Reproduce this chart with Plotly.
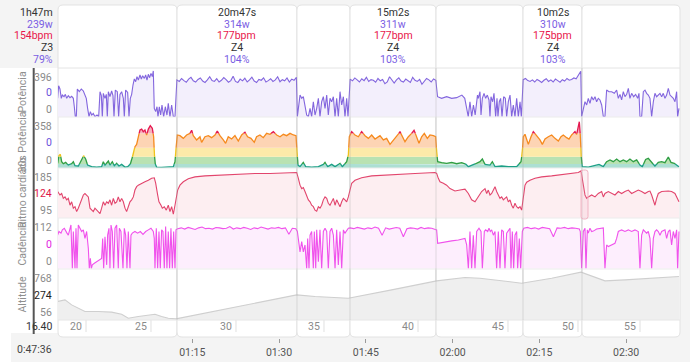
import numpy as np
import plotly.graph_objects as go

# ---------------- data (times in minutes of ride clock) ----------------
summary = ["1h47m", "239w", "154bpm", "Z3", "79%"]
int_labels = ["20m47s", "15m2s", "10m2s"]
int_watts = [314, 311, 310]
int_bpm = [177, 177, 175]
int_zone = ["Z4", "Z4", "Z4"]
int_pct = [104, 103, 103]
int_start = [72.37, 102.27, 132.17]
int_end = [93.10, 117.13, 142.36]

time_ticks = [75, 90, 105, 120, 135, 150]
time_tick_text = ["01:15", "01:30", "01:45", "02:00", "02:15", "02:30"]
dist_km = [20, 25, 30, 35, 40, 45, 50, 55]
dist_time = [56.64, 67.87, 82.56, 97.77, 114.02, 129.57, 141.67, 152.39]
cursor_time = 47.6
cursor_time_text = "0:47:36"
cursor_dist = "16.40"

# panel labels: (title, max, current, min)
panel_titles = ["Potência", "30s Potência", "Ritmo cardíaco", "Cadência", "Altitude"]
panel_max = ["396", "358", "185", "112", "768"]
panel_cur = ["0", "0", "124", "0", "274"]
panel_min = ["0", "0", "95", "0", "56"]

# ---- power (W)
power_t_a = [51.74, 51.91, 52.14, 52.37, 52.55, 52.84, 53.07, 53.30, 53.58, 53.87, 54.16, 54.45, 54.62, 54.79,
             54.97, 55.14, 55.48, 55.83, 56.18, 56.46, 56.69, 56.92, 57.16, 57.39, 57.62, 57.90, 58.19, 58.54,
             58.83, 59.06, 59.29, 59.46, 59.63, 59.92, 60.15, 60.32, 60.50, 60.78, 61.07, 61.30, 61.48, 61.71,
             62.05, 62.28, 62.51, 62.80, 63.09, 63.26, 63.49, 63.84, 64.07, 64.30, 64.53, 64.76, 64.99, 65.22,
             65.45, 65.68, 65.97, 66.20, 66.43, 66.72, 66.95, 67.18, 67.41, 67.64, 67.87, 68.10, 68.27, 68.44,
             68.68, 68.91, 69.08, 69.31, 69.54, 69.77, 70.06, 70.35, 70.63, 70.86, 71.15, 71.44, 71.73, 72.02]
power_a = [160, 268, 240, 160, 188, 174, 194, 160, 183, 166, 177, 160, 88, 3, 3, 240, 217, 240, 223, 188, 160, 74,
           3, 46, 17, 31, 3, 17, 3, 217, 183, 3, 203, 160, 194, 3, 217, 174, 223, 183, 3, 231, 217, 3, 194, 217,
           160, 3, 231, 211, 3, 160, 194, 274, 326, 303, 346, 317, 360, 326, 354, 331, 360, 317, 366, 337, 374,
           346, 395, 74, 46, 88, 3, 88, 17, 103, 3, 88, 17, 117, 3, 103, 3, 3]
power_int1 = [318, 305, 330, 312, 298, 325, 340, 310, 300, 322, 335, 308, 296, 318, 345, 312, 305, 328, 300, 315,
              338, 320, 298, 312, 350, 305, 295, 325, 310, 332, 300, 318, 342, 308, 296, 322, 315, 336, 300, 312,
              328, 305, 318, 345, 302, 320, 310, 335, 300, 325, 315, 340]
power_t_b = [93.17, 93.63, 93.92, 94.20, 94.49, 94.78, 95.07, 95.36, 95.64, 95.93, 96.22, 96.51, 96.80, 97.08,
             97.37, 97.66, 97.95, 98.24, 98.52, 98.81, 99.10, 99.39, 99.68, 99.96, 100.25, 100.54, 100.83, 101.12,
             101.40, 101.69, 101.92]
power_b = [3, 188, 160, 174, 103, 17, 3, 74, 3, 131, 17, 74, 160, 3, 131, 174, 74, 188, 17, 160, 131, 174, 3, 160,
           3, 217, 103, 174, 3, 160, 3]
power_int2 = [325, 310, 335, 318, 300, 328, 312, 340, 305, 320, 315, 298, 330, 310, 322, 285, 300, 345, 312, 290,
              318, 335, 308, 300, 325, 312, 296, 340, 315, 305, 322, 280, 310, 330, 318, 300, 326, 315]
power_t_c = [117.4, 118.1, 118.97, 119.84, 120.7, 121.6, 122.1, 122.4, 122.7, 123.0, 123.3, 123.6, 123.9, 124.3,
             124.45, 124.73, 124.91, 125.14, 125.43, 125.71, 126.0, 126.29, 126.46, 126.63, 126.92, 127.15, 127.44,
             127.67, 127.84, 128.07, 128.3, 128.54, 128.82, 129.11, 129.34, 129.63, 129.92, 130.21, 130.49, 130.78,
             131.07, 131.36, 131.65, 131.88]
power_c = [174, 160, 174, 160, 166, 188, 160, 88, 3, 131, 3, 103, 17, 188, 160, 217, 17, 160, 203, 160, 188, 146,
           3, 174, 131, 203, 3, 160, 3, 131, 160, 3, 174, 160, 3, 131, 188, 3, 103, 3, 160, 3, 131, 3]
power_int3 = [320, 330, 312, 305, 318, 300, 322, 310, 296, 315, 328, 305, 318, 300, 325, 312, 298, 320, 308, 330,
              315, 322, 335, 328, 360, 392]
power_t_d = [142.30, 142.59, 142.88, 143.17, 143.45, 143.74, 144.03, 144.32, 144.61, 144.89, 145.18, 145.47,
             145.76, 146.05, 146.33, 146.62, 147.03, 147.49, 147.95, 148.35, 148.64, 148.93, 149.21, 149.50,
             149.79, 150.08, 150.37, 150.65, 150.94, 151.29, 151.63, 151.98, 152.21, 152.38, 152.67, 152.96,
             153.25, 153.53, 153.82, 154.11, 154.40, 154.69, 154.97, 155.26, 155.55, 155.84, 156.13, 156.41,
             156.70, 156.99, 157.28, 157.57, 157.85, 158.14, 158.43, 158.72, 158.89, 159.12]
power_d = [3, 74, 131, 103, 160, 117, 174, 146, 174, 131, 160, 146, 103, 3, 3, 231, 217, 217, 203, 231, 160, 194,
           146, 217, 174, 194, 246, 160, 203, 174, 194, 160, 203, 3, 3, 217, 231, 203, 188, 160, 3, 131, 203, 174,
           194, 203, 174, 203, 160, 188, 246, 188, 174, 160, 131, 217, 3, 74]

# ---- 30s power, on the zone panel scale
p30_t1 = [51.74, 51.97, 52.2, 52.43, 52.72, 53.12, 53.58, 54.16, 54.45, 54.74, 55.31, 55.89, 56.23, 56.58, 56.92,
          57.62, 58.48, 59.34, 59.63, 59.92, 60.5, 60.78, 61.19, 61.53, 61.94, 62.34, 62.8, 63.38, 63.84, 64.24,
          64.53, 64.82, 65.1, 65.39, 65.68, 65.97, 66.26, 66.54, 66.83, 67.12, 67.41, 67.75, 68.1, 68.33, 68.44,
          68.56, 68.85, 69.71, 70.86, 71.73, 72.02, 72.25, 72.42]
p30_v1 = [35, 92, 102, 47, 32, 42, 22, 32, 47, 17, 15, 60, 92, 67, 22, 10, 7, 10, 47, 22, 52, 22, 47, 17, 35, 15,
          27, 7, 10, 22, 60, 109, 159, 176, 233, 283, 290, 271, 283, 246, 290, 315, 296, 233, 122, 35, 7, 5, 5, 10,
          47, 171, 246]
p30_t2 = [72.88, 73.46, 74.03, 74.61, 74.9, 75.18, 75.76, 76.34, 76.62, 77.2, 77.78, 78.35, 78.93, 79.33, 79.79,
          80.37, 80.77, 81.23, 81.81, 82.38, 82.96, 83.54, 84.11, 84.57, 85.15, 85.72, 86.12, 86.7, 87.28, 87.86,
          88.43]
p30_v2 = [241, 221, 246, 258, 281, 241, 209, 233, 191, 233, 241, 226, 246, 276, 241, 209, 184, 233, 216, 241, 201,
          246, 266, 233, 221, 191, 233, 246, 226, 258, 251]
p30_t3 = [89.02, 89.6, 90.17, 90.75, 91.32, 91.9, 92.48, 92.94, 93.11, 93.28, 93.63, 94.2, 94.61, 95.64, 96.8,
          97.66, 97.95, 98.41, 99.1, 99.68, 100.54, 100.94, 101.69, 101.98, 102.15]
p30_v3 = [271, 246, 233, 251, 241, 258, 246, 241, 122, 22, 10, 42, 10, 7, 10, 27, 42, 10, 27, 10, 35, 10, 47, 97,
          233]
p30_t4 = [102.56, 103.13, 103.71, 104.28, 104.86, 105.44, 106.01, 106.59, 107.45, 108.03, 108.6, 109.18, 109.76,
          110.33, 110.91, 111.31, 111.77, 112.35, 112.92, 113.33, 113.79, 114.19, 114.65, 115.11, 115.63, 116.09,
          116.67, 117.07]
p30_v4 = [271, 246, 233, 271, 241, 221, 246, 216, 241, 209, 221, 176, 209, 233, 271, 233, 196, 233, 258, 281, 233,
          184, 233, 258, 221, 246, 241, 233]
p30_t5 = [117.24, 117.42, 118.11, 118.97, 119.84, 120.7, 121.56, 122.31, 122.72, 123.58, 124.33, 124.73, 125.14,
          125.6, 126.46, 126.87, 127.33, 128.48, 129.63, 131.07, 131.82, 132.05]
p30_v5 = [122, 47, 40, 35, 42, 32, 40, 27, 10, 22, 42, 47, 67, 27, 22, 47, 10, 15, 10, 10, 47, 122]
p30_t6 = [132.22, 132.51, 133.09, 133.55, 133.95, 134.53, 135.1, 135.51, 135.97, 136.54, 137.12, 137.69, 138.27,
          138.73, 139.13, 139.71, 140.11, 140.57, 141.15, 141.44, 141.73, 141.9, 142.07, 142.25]
p30_v6 = [233, 251, 176, 233, 271, 241, 209, 176, 216, 233, 246, 221, 201, 233, 246, 226, 216, 246, 271, 251, 308,
          345, 246, 72]
p30_t7 = [142.42, 143.45, 144.61, 145.3, 146.05, 146.62, 147.2, 147.77, 148.35, 148.93, 149.5, 150.08, 150.65,
          151.23, 151.81, 152.38, 152.79, 153.36, 153.82, 154.28, 154.97, 155.55, 156.13, 156.7, 157.28, 157.74,
          158.31, 158.72, 159.12]
p30_v7 = [10, 7, 17, 27, 10, 47, 60, 47, 67, 47, 60, 47, 67, 47, 60, 22, 10, 64, 72, 47, 15, 42, 47, 40, 82, 42,
          35, 22, 10]
zone_edges = [0, 30, 84, 151, 258, 1000]

# ---- heart rate (bpm)
hr_t_a = [51.74, 52.14, 52.43, 52.72, 53.01, 53.3, 53.58, 53.87, 54.16, 54.45, 54.74, 55.02, 55.31, 55.6, 55.89,
          56.18, 56.46, 56.75, 57.04, 57.33, 57.62, 57.9, 58.19, 58.48, 58.77, 59.06, 59.34, 59.63, 59.92, 60.21,
          60.5, 60.78, 61.07, 61.36, 61.65, 61.94, 62.22, 62.51, 62.8, 63.09, 63.38, 63.66, 63.95, 64.24, 64.53,
          64.82, 65.1, 65.39, 65.68, 66.26, 66.83, 67.41, 67.98, 68.44, 68.68, 69.02, 69.25, 69.6, 69.83, 70.17,
          70.52, 70.86, 71.15, 71.44, 71.73, 72.02]
hr_a = [143, 136, 139, 129, 132, 126, 129, 115, 122, 109, 112, 102, 109, 119, 129, 136, 139, 136, 132, 109, 105,
        102, 109, 105, 102, 98, 109, 122, 115, 122, 119, 126, 115, 129, 119, 122, 132, 122, 129, 122, 109, 102, 112,
        122, 126, 132, 146, 153, 156, 160, 163, 166, 170, 171, 160, 136, 122, 115, 109, 112, 105, 115, 102, 112, 97,
        115]
hr_t_b = [72.19, 72.48, 72.88, 73.46, 74.32, 75.47, 77.2, 80.08, 82.96, 85.84, 88.43, 90.46, 93.05, 93.34, 93.63,
          93.92, 94.2, 94.49, 94.78, 95.07, 95.36, 95.64, 95.93, 96.22, 96.51, 96.8, 97.08, 97.37, 97.66, 97.95,
          98.24, 98.52, 98.81, 99.1, 99.39, 99.68, 99.96, 100.25, 100.54, 100.83, 101.12, 101.4, 101.69, 101.98]
hr_b = [129, 146, 156, 163, 169, 173, 175, 177, 178, 180, 180, 181, 182, 170, 156, 149, 151, 143, 132, 126, 122,
        115, 112, 105, 103, 112, 109, 115, 126, 132, 129, 119, 115, 122, 129, 115, 126, 119, 112, 122, 129, 126, 122,
        132]
hr_t_c = [102.27, 102.56, 103.13, 104.28, 106.01, 108.32, 110.62, 113.5, 116.96, 117.24, 117.53, 117.82, 118.4,
          118.97, 119.55, 120.41, 121.28, 122.14, 122.72, 123.29, 123.87, 124.44, 125.02, 125.6, 125.89, 126.17,
          126.46, 126.75, 127.04, 127.33, 127.61, 127.9, 128.19, 128.48, 128.77, 129.05, 129.34, 129.63, 129.92,
          130.21, 130.49, 130.78, 131.07, 131.36, 131.65, 131.93]
hr_c = [149, 160, 166, 171, 175, 177, 179, 180, 182, 180, 170, 163, 160, 156, 149, 144, 146, 148, 139, 126, 122,
        132, 143, 149, 139, 146, 136, 139, 146, 153, 143, 136, 129, 132, 126, 129, 132, 122, 126, 115, 109, 119, 112,
        109, 112, 105]
hr_t_d = [132.22, 132.51, 132.8, 133.37, 134.24, 135.39, 137.12, 138.85, 140.57, 141.73, 142.19, 142.42, 142.65,
          142.88, 143.17, 143.45, 144.03, 144.61, 145.18, 145.76, 146.05, 146.33, 146.91, 147.49, 148.06, 148.64,
          149.21, 149.79, 150.37, 150.94, 151.52, 152.09, 152.67, 153.25, 153.82, 154.11, 154.4, 154.97, 155.26,
          155.55, 156.13, 156.7, 157.28, 157.85, 158.43, 159.12]
hr_d = [129, 156, 162, 166, 170, 173, 175, 178, 180, 182, 185, 170, 149, 136, 129, 132, 136, 132, 139, 143, 132,
        139, 143, 139, 136, 143, 139, 143, 146, 139, 143, 146, 143, 139, 143, 144, 136, 115, 129, 139, 143, 144, 144,
        143, 139, 122]
hr_marker = [142.2, 143.4]

# ---- cadence (rpm)
cad_t_a = [51.74, 51.97, 52.32, 52.55, 52.89, 53.12, 53.35, 53.58, 53.87, 54.04, 54.28, 54.45, 54.74, 54.91, 55.08,
           55.31, 55.6, 55.89, 56.18, 56.46, 56.75, 57.04, 57.21, 57.39, 57.56, 57.73, 58.08, 58.48, 58.88, 59.34,
           59.52, 59.69, 59.92, 60.21, 60.38, 60.61, 60.78, 60.96, 61.19, 61.42, 61.65, 61.94, 62.22, 62.4, 62.68,
           63.03, 63.26, 63.49, 63.72, 63.95, 64.24, 64.41, 64.64, 65.1, 65.56, 66.03, 66.49, 66.95, 67.41, 67.87,
           68.27, 68.44, 68.56, 68.79, 69.02, 69.25, 69.48, 69.71, 69.94, 70.17, 70.4, 70.63, 70.86, 71.09, 71.32,
           71.56, 71.79, 72.02, 72.19]
cad_a = [82, 91, 87, 95, 99, 91, 87, 82, 100, 107, 0, 91, 0, 99, 0, 107, 99, 91, 95, 74, 91, 50, 0, 25, 0, 9, 13, 17,
         21, 25, 74, 0, 78, 9, 82, 99, 0, 107, 91, 0, 99, 107, 0, 99, 91, 0, 99, 82, 0, 91, 0, 82, 87, 91, 87, 91,
         84, 91, 95, 99, 91, 74, 0, 99, 0, 91, 0, 95, 91, 0, 103, 0, 91, 0, 99, 0, 91, 0, 95]
cad_int1 = [98, 100, 97, 101, 99, 96, 100, 102, 98, 99, 97, 101, 100, 98, 99, 103, 97, 100, 98, 101, 99, 96, 100,
            98, 102, 99, 97, 100, 99, 101, 98, 100, 84, 99, 98]
cad_t_b = [93.17, 93.34, 93.63, 93.92, 94.2, 94.49, 94.78, 94.95, 95.18, 95.36, 95.64, 95.93, 96.1, 96.34, 96.51,
           96.8, 97.08, 97.37, 97.66, 97.95, 98.24, 98.52, 98.81, 99.1, 99.39, 99.68, 99.96, 100.25, 100.54, 100.83,
           101.12, 101.4, 101.69, 101.98]
cad_b = [91, 74, 41, 66, 41, 58, 0, 74, 0, 82, 91, 0, 91, 0, 95, 17, 95, 0, 91, 99, 91, 0, 91, 99, 82, 0, 95, 9, 91,
         0, 95, 87, 92, 99]
cad_int2 = [100, 98, 101, 99, 97, 100, 98, 102, 99, 82, 100, 97, 99, 101, 99, 78, 98, 100, 99, 97, 101, 98, 100, 99,
            96]
cad_t_c = [117.24, 117.42, 118.68, 119.84, 120.99, 122.14, 122.43, 122.72, 123.0, 123.29, 123.58, 123.87, 124.16,
           124.33, 124.56, 124.91, 125.14, 125.48, 125.71, 126.06, 126.29, 126.52, 126.75, 127.04, 127.33, 127.61,
           127.9, 128.19, 128.48, 128.77, 129.05, 129.34, 129.63, 129.92, 130.09, 130.32, 130.55, 130.78, 131.07,
           131.24, 131.53, 131.76, 132.05]
cad_c = [95, 62, 66, 68, 70, 74, 58, 0, 91, 0, 82, 0, 91, 95, 99, 91, 0, 91, 95, 91, 99, 91, 95, 82, 91, 0, 91, 0,
         95, 91, 0, 87, 95, 99, 0, 91, 0, 82, 91, 0, 74, 0, 91]
cad_int3 = [99, 101, 98, 100, 97, 101, 99, 98, 78, 100, 99, 101, 98, 100, 99, 97]
cad_t_d = [142.07, 142.3, 142.59, 142.88, 143.05, 143.28, 143.45, 143.74, 144.03, 144.32, 144.89, 145.47, 146.05,
           146.33, 146.62, 146.91, 147.49, 148.06, 148.35, 148.64, 149.21, 149.79, 150.37, 150.94, 151.52, 152.09,
           152.38, 152.67, 152.96, 153.25, 153.53, 153.82, 154.11, 154.4, 154.69, 154.97, 155.26, 155.55, 155.84,
           156.13, 156.7, 156.99, 157.28, 157.57, 157.85, 158.14, 158.43, 158.72, 158.89, 159.12]
cad_d = [91, 0, 91, 99, 0, 95, 87, 99, 91, 92, 97, 99, 100, 0, 58, 54, 58, 62, 74, 91, 95, 91, 95, 91, 95, 91, 0,
         82, 95, 91, 87, 91, 74, 0, 74, 91, 95, 91, 82, 91, 95, 74, 91, 95, 58, 91, 74, 95, 0, 91]

# ---- altitude (m)
alt_t = [51.74, 53.01, 54.16, 56.46, 58.77, 61.07, 62.8, 63.95, 65.68, 67.41, 68.56, 69.71, 70.86, 72.19, 80.08,
         88.43, 93.05, 96.22, 99.1, 101.98, 109.47, 117.24, 122.14, 124.73, 131.93, 137.12, 142.19, 146.33, 149.79,
         154.4, 159.12]
alt_v = [330, 354, 280, 182, 182, 172, 142, 83, 108, 132, 142, 108, 83, 73, 207, 354, 428, 404, 389, 379, 502, 635,
         685, 675, 601, 675, 764, 635, 650, 675, 699]

# ---------------- layout geometry ----------------
W, H = 690, 362
PL, PR = 58, 680
T_MIN, T_MAX = 51.8, 159.3
PANELS = [(68, 117), (117, 168), (168, 218), (218, 269), (269, 320)]
RANGES = [[0, 420], [0, 380], [88.9, 191.1], [-1.2, 124.2], [56, 811]]
FONT = "Roboto, 'Open Sans', sans-serif"
FS = 10.5
PURPLE = "#7a5de3"
RED = "#e8174c"


def tx(t):
    return PL + (t - T_MIN) * (PR - PL) / (T_MAX - T_MIN)


def fx(x):
    return x / W


def fy(y):
    return 1 - y / H


def grid(a, b, vals):
    return list(np.linspace(a, b, len(vals)))


def series(*parts):
    t, v = [], []
    for pt, pv in parts:
        n = min(len(pt), len(pv))
        t += list(pt[:n])
        v += list(pv[:n])
    order = np.argsort(np.array(t), kind="stable")
    return np.array(t, float)[order], np.array(v, float)[order]


pw_t, pw_v = series((power_t_a, power_a), (grid(72.35, 93.0, power_int1), power_int1), (power_t_b, power_b),
                    (grid(102.3, 117.1, power_int2), power_int2), (power_t_c, power_c),
                    (grid(132.2, 142.15, power_int3), power_int3), (power_t_d, power_d))
z_t, z_v = series((p30_t1, p30_v1), (p30_t2, p30_v2), (p30_t3, p30_v3), (p30_t4, p30_v4), (p30_t5, p30_v5),
                  (p30_t6, p30_v6), (p30_t7, p30_v7))
hr_t, hr_v = series((hr_t_a, hr_a), (hr_t_b, hr_b), (hr_t_c, hr_c), (hr_t_d, hr_d))
cd_t, cd_v = series((cad_t_a, cad_a), (grid(72.5, 92.9, cad_int1), cad_int1), (cad_t_b, cad_b),
                    (grid(102.3, 117.0, cad_int2), cad_int2), (cad_t_c, cad_c),
                    (grid(132.3, 141.9, cad_int3), cad_int3), (cad_t_d, cad_d))
al_t, al_v = series((alt_t, alt_v))

fig = go.Figure()


def add_area(t, v, yax, line, fill, width=1.1):
    fig.add_trace(go.Scatter(x=t, y=v, xaxis="x", yaxis=yax, mode="lines", fill="tozeroy", fillcolor=fill,
                             line=dict(color=line, width=width), hoverinfo="skip"))


add_area(pw_t, pw_v, "y", "#8366de", "#f3effc")

# zones panel: banded fill + zone-coloured line
zone_line = ["#1c9f86", "#2f9e44", "#f0c21a", "#f68a1e", "#e5194f"]
zone_fill = ["#acdfd3", "#b9e2b2", "#fdeaa9", "#fdd4b4", "#f6b0bd"]
rt, rv = [z_t[0]], [z_v[0]]
for i in range(len(z_t) - 1):
    t0, v0, t1, v1 = z_t[i], z_v[i], z_t[i + 1], z_v[i + 1]
    cuts = []
    for e in zone_edges[1:-1]:
        if (v0 - e) * (v1 - e) < 0:
            f = (e - v0) / (v1 - v0)
            cuts.append((t0 + f * (t1 - t0), e))
    cuts.sort()
    for c in cuts:
        rt.append(c[0])
        rv.append(c[1])
    rt.append(t1)
    rv.append(v1)
rt, rv = np.array(rt), np.array(rv)
for k in range(5):
    lo, hi = zone_edges[k], zone_edges[k + 1]
    fig.add_trace(go.Scatter(x=rt, y=np.full(len(rt), lo), xaxis="x", yaxis="y2", mode="lines",
                             line=dict(width=0, color="rgba(0,0,0,0)"), hoverinfo="skip"))
    fig.add_trace(go.Scatter(x=rt, y=np.clip(rv, lo, hi), xaxis="x", yaxis="y2", mode="lines", fill="tonexty",
                             fillcolor=zone_fill[k], line=dict(width=0, color="rgba(0,0,0,0)"), hoverinfo="skip"))


def zone_of(v):
    k = 0
    for e in zone_edges[1:-1]:
        if v >= e:
            k += 1
    return k


seg_x = [[] for _ in range(5)]
seg_y = [[] for _ in range(5)]
prev = None
for i in range(len(rt) - 1):
    k = zone_of((rv[i] + rv[i + 1]) / 2)
    if k != prev:
        if prev is not None:
            seg_x[prev].append(None)
            seg_y[prev].append(None)
        seg_x[k] += [rt[i]]
        seg_y[k] += [rv[i]]
    seg_x[k].append(rt[i + 1])
    seg_y[k].append(rv[i + 1])
    prev = k
for k in range(5):
    fig.add_trace(go.Scatter(x=seg_x[k], y=seg_y[k], xaxis="x", yaxis="y2", mode="lines", connectgaps=False,
                             line=dict(color=zone_line[k], width=1.3), hoverinfo="skip"))

add_area(hr_t, hr_v, "y3", "#e2456d", "#fdeef1")
add_area(cd_t, cd_v, "y4", "#f052ec", "#fdeefd")
add_area(al_t, al_v, "y5", "#cfcfcf", "#efefef")

# ---------------- shapes ----------------
shapes = []


def rect(x0, y0, x1, y1, fill, layer="below", line=None):
    shapes.append(dict(type="rect", xref="paper", yref="paper", x0=fx(x0), x1=fx(x1), y0=fy(y1), y1=fy(y0),
                       fillcolor=fill, line=dict(width=0) if line is None else line, layer=layer))


def rrect_path(x0, y0, x1, y1, r):
    P = lambda x, y: f"{fx(x):.5f},{fy(y):.5f}"
    return (f"M{P(x0 + r, y0)} L{P(x1 - r, y0)} Q{P(x1, y0)} {P(x1, y0 + r)} L{P(x1, y1 - r)} "
            f"Q{P(x1, y1)} {P(x1 - r, y1)} L{P(x0 + r, y1)} Q{P(x0, y1)} {P(x0, y1 - r)} "
            f"L{P(x0, y0 + r)} Q{P(x0, y0)} {P(x0 + r, y0)} Z")


def hline(y, x0, x1, color, layer="below"):
    shapes.append(dict(type="line", xref="paper", yref="paper", x0=fx(x0), x1=fx(x1), y0=fy(y), y1=fy(y),
                       line=dict(color=color, width=1), layer=layer))


def vline(x, y0, y1, color, width=1, layer="below"):
    shapes.append(dict(type="line", xref="paper", yref="paper", x0=fx(x), x1=fx(x), y0=fy(y0), y1=fy(y1),
                       line=dict(color=color, width=width), layer=layer))


GRAY = "#f4f4f4"
rect(0, 0, W, 68, GRAY)
rect(680, 0, W, H, GRAY)
rect(11, 333, W, H, GRAY)

edges = [PL] + sorted([tx(t) for t in int_start + int_end]) + [PR]
for a, b in zip(edges[:-1], edges[1:]):
    shapes.append(dict(type="path", xref="paper", yref="paper", path=rrect_path(a, 5, b, 337, 5),
                       fillcolor="white", line=dict(color="#e2e2e2", width=1), layer="below"))
hline(68, PL, PR, "#e4e4e4")
for (top, bot) in PANELS[1:]:
    hline(top, PL, PR, "#ececec", layer="above")
hline(320, PL, PR, "#e6e6e6", layer="above")
for e in edges[1:-1]:
    vline(e, 68, 320, "rgba(170,170,170,0.35)", layer="above")

# distance separators
for t in dist_time:
    vline(tx(t), 320, 332, "#e0e0e0")

# hr marker box
mx0, mx1 = tx(hr_marker[0]), tx(hr_marker[1])
shapes.append(dict(type="path", xref="paper", yref="paper", path=rrect_path(mx0, 170, mx1, 219, 2.5),
                   fillcolor="rgba(240,170,190,0.15)", line=dict(color="#f1b3c4", width=1), layer="above"))

# cursor line
vline(tx(cursor_time), 68, 334, "#555555", width=2, layer="above")

# ---------------- annotations ----------------
ann = []


def text(x, y, s, color="#333", size=FS, anchor="center", angle=0):
    ann.append(dict(x=fx(x), y=fy(y), xref="paper", yref="paper", text=s, showarrow=False, xanchor=anchor,
                    yanchor="middle", textangle=angle, borderpad=0,
                    font=dict(family=FONT, size=size, color=color)))


row_y = [12.5, 24.2, 36.0, 47.8, 59.5]
row_col = ["#333", PURPLE, RED, "#333", PURPLE]
for s, y, c in zip(summary, row_y, row_col):
    text(54, y, s, c, anchor="right")
for i in range(3):
    cx = (tx(int_start[i]) + tx(int_end[i])) / 2
    vals = [int_labels[i], f"{int_watts[i]}w", f"{int_bpm[i]}bpm", int_zone[i], f"{int_pct[i]}%"]
    for s, y, c in zip(vals, row_y, row_col):
        text(cx, y, s, c)

cur_cols = ["#6a4fdb", "#6a4fdb", "#e0174a", "#e21ee0", "#222"]
for i, (top, bot) in enumerate(PANELS):
    mid = (top + bot) / 2
    text(53, top + 9, panel_max[i], "#8a8a8a", anchor="right")
    text(53, mid + 0.5, panel_cur[i], cur_cols[i], anchor="right")
    text(53, bot - 8, panel_min[i], "#8a8a8a", anchor="right")
    text(22, mid, panel_titles[i], "#8f8f8f", angle=-90)

for d, t in zip(dist_km, dist_time):
    text(tx(t) - 3, 326, str(d), "#8a8a8a", anchor="right")
text(53, 326, cursor_dist, "#333", anchor="right")
text(53, 349, cursor_time_text, "#444", anchor="right")

layout = dict(
    width=W, height=H, margin=dict(l=0, r=0, t=0, b=0), showlegend=False,
    paper_bgcolor="white", plot_bgcolor="rgba(0,0,0,0)", font=dict(family=FONT),
    shapes=shapes, annotations=ann,
    xaxis=dict(domain=[fx(PL), fx(PR)], range=[T_MIN, T_MAX], anchor="free", position=fy(338),
               tickvals=time_ticks, ticktext=time_tick_text, ticks="outside", ticklen=4, tickcolor="#9a9a9a",
               showgrid=False, zeroline=False, showline=False, fixedrange=True,
               tickfont=dict(family=FONT, size=FS, color="#555")),
)
names = ["yaxis", "yaxis2", "yaxis3", "yaxis4", "yaxis5"]
for nm, (top, bot), rg in zip(names, PANELS, RANGES):
    layout[nm] = dict(domain=[fy(bot), fy(top)], range=rg, visible=False, fixedrange=True, anchor="x")
fig.update_layout(**layout)
fig.write_html("out.html", config={"displayModeBar": False},
               post_script="document.body.style.margin='0';document.body.style.overflow='hidden';")
